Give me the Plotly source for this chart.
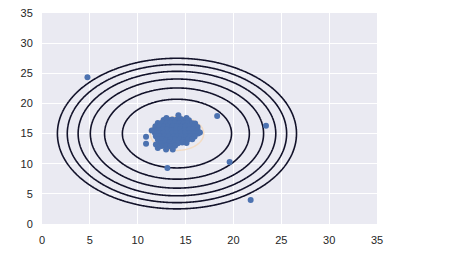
import numpy as np
import plotly.graph_objects as go

# ---- data ----
# outlying observations
outlier_x = [4.75, 18.3, 19.6, 13.1, 21.8, 23.4, 10.87, 10.87, 12.1, 12.96, 13.66, 16.5, 11.46, 11.9, 14.25, 13.0, 15.1]
outlier_y = [24.35, 17.9, 10.3, 9.3, 4.0, 16.3, 14.47, 13.33, 12.6, 12.37, 12.37, 15.16, 15.53, 13.2, 18.05, 17.6, 17.6]

# dense cluster observations (rows read from the blob)
cluster_x = [
    12.7, 13.15, 13.6, 14.05, 14.5, 14.95, 15.35,
    12.1, 12.55, 13.0, 13.45, 13.9, 14.35, 14.8, 15.25, 15.7, 16.0,
    11.85, 12.3, 12.75, 13.2, 13.65, 14.1, 14.55, 15.0, 15.45, 15.9, 16.25,
    11.75, 12.2, 12.65, 13.1, 13.55, 14.0, 14.45, 14.9, 15.35, 15.8, 16.25,
    11.8, 12.25, 12.7, 13.15, 13.6, 14.05, 14.5, 14.95, 15.4, 15.85, 16.3,
    11.9, 12.35, 12.8, 13.25, 13.7, 14.15, 14.6, 15.05, 15.5, 15.95,
    12.1, 12.55, 13.0, 13.45, 13.9, 14.35, 14.8, 15.25, 15.7,
    12.4, 12.85, 13.3, 13.75, 14.2, 14.65, 15.1,
    12.5, 12.95, 13.4, 13.9,
]
cluster_y = [
    17.25, 17.3, 17.35, 17.3, 17.4, 17.3, 17.2,
    16.75, 16.8, 16.7, 16.75, 16.8, 16.7, 16.75, 16.8, 16.7, 16.65,
    16.2, 16.25, 16.15, 16.2, 16.25, 16.2, 16.15, 16.2, 16.25, 16.2, 16.1,
    15.65, 15.6, 15.7, 15.65, 15.6, 15.65, 15.7, 15.6, 15.65, 15.7, 15.6,
    15.1, 15.05, 15.15, 15.1, 15.05, 15.1, 15.15, 15.1, 15.05, 15.1, 15.0,
    14.55, 14.5, 14.6, 14.55, 14.5, 14.55, 14.6, 14.5, 14.55, 14.5,
    14.0, 14.05, 13.95, 14.0, 14.05, 14.0, 13.95, 14.0, 14.05,
    13.45, 13.4, 13.5, 13.45, 13.4, 13.5, 13.45,
    12.95, 13.0, 12.9, 13.0,
]

# fitted density: centre and contour levels (squared distance from centre)
density_center = [14.1, 15.0]
inner_level = 7.8
outer_levels_start = 32.5
outer_levels_end = 156.0
outer_levels_step = 24.7

tick_vals = [0, 5, 10, 15, 20, 25, 30, 35]

# ---- grid for contours ----
gx = np.linspace(0, 35, 351)
gy = np.linspace(0, 35, 351)
GX, GY = np.meshgrid(gx, gy)
Z = (GX - density_center[0]) ** 2 + (GY - density_center[1]) ** 2

fig = go.Figure()

fig.add_trace(go.Contour(
    x=gx, y=gy, z=Z,
    autocontour=False,
    contours=dict(start=outer_levels_start, end=outer_levels_end, size=outer_levels_step,
                  coloring="none", showlabels=False),
    line=dict(color="#12122a", width=1.6),
    showscale=False, hoverinfo="skip",
))
fig.add_trace(go.Contour(
    x=gx, y=gy, z=Z,
    autocontour=False,
    contours=dict(start=inner_level, end=inner_level + 0.1, size=5, coloring="none", showlabels=False),
    line=dict(color="#f3dcc4", width=1.5),
    showscale=False, hoverinfo="skip",
))

fig.add_trace(go.Scatter(
    x=cluster_x + outlier_x, y=cluster_y + outlier_y,
    mode="markers",
    marker=dict(color="#4c72b0", size=6, line=dict(width=0)),
    showlegend=False,
))

axis_common = dict(
    range=[0, 35], tickvals=tick_vals, showgrid=True, gridcolor="white", gridwidth=1,
    zeroline=False, showline=False, ticks="outside", ticklen=6, tickcolor="rgba(0,0,0,0)",
    tickfont=dict(family="Liberation Sans, Arial, sans-serif", size=11, color="#262626"),
)

fig.update_layout(
    width=463, height=253,
    margin=dict(l=42, r=86, t=7, b=29),
    paper_bgcolor="white", plot_bgcolor="#eaeaf2",
    xaxis=axis_common, yaxis=axis_common,
    showlegend=False,
)

fig.write_html("out.html")
